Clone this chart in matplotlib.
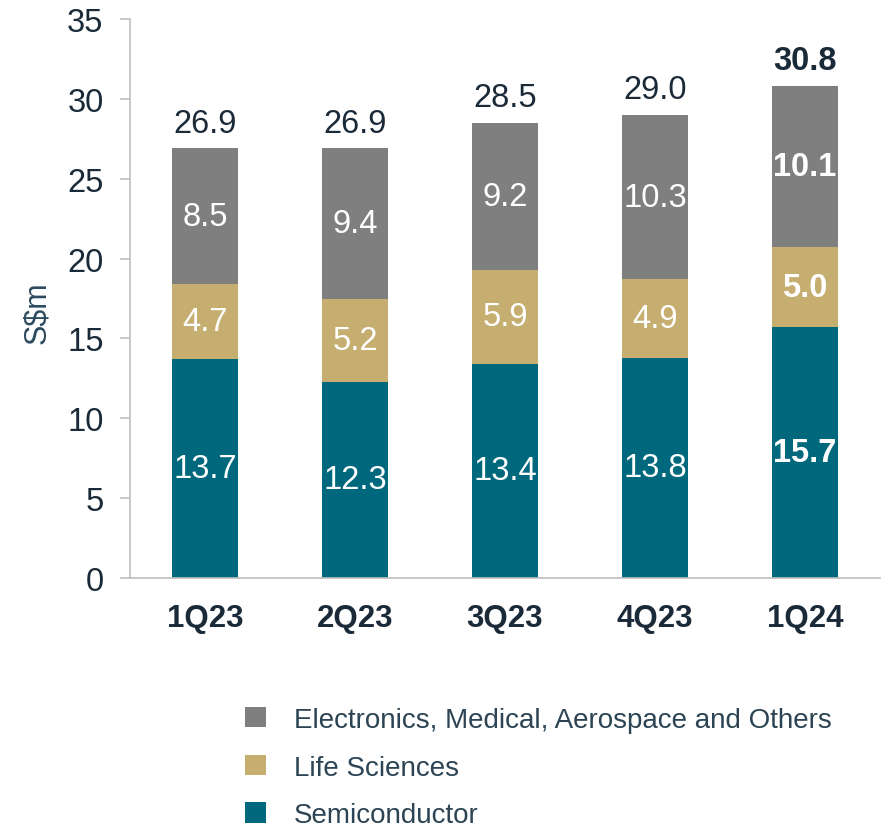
import matplotlib
matplotlib.use("Agg")
import matplotlib.pyplot as plt
import numpy as np

categories = ["1Q23", "2Q23", "3Q23", "4Q23", "1Q24"]
semiconductor = [13.7, 12.3, 13.4, 13.8, 15.7]
life_sciences = [4.7, 5.2, 5.9, 4.9, 5.0]
electronics = [8.5, 9.4, 9.2, 10.3, 10.1]
totals = [26.9, 26.9, 28.5, 29.0, 30.8]
series_names = ["Semiconductor", "Life Sciences", "Electronics, Medical, Aerospace and Others"]
colors = ["#00687d", "#c5ae6f", "#7f7f7f"]

plt.rcParams['font.family'] = ['Liberation Sans', 'DejaVu Sans']
txt = "#1b2a38"

fig = plt.figure(figsize=(8.85, 8.28), dpi=100)
ax = fig.add_axes([130/885, 1-579/828, 750/885, 559/828])

x = np.arange(len(categories))
w = 0.44
bottom = np.zeros(len(categories))
handles = []
for vals, name, c in zip([semiconductor, life_sciences, electronics], series_names, colors):
    bars = ax.bar(x, vals, w, bottom=bottom, color=c, label=name, zorder=2)
    handles.append(bars)
    for i, v in enumerate(vals):
        bold = (i == len(categories) - 1)
        ax.text(x[i], bottom[i] + v/2, f"{v:.1f}", ha="center", va="center",
                color="white", fontsize=23.5, fontweight="bold" if bold else "normal")
    bottom += np.array(vals)

for i, t in enumerate(totals):
    bold = (i == len(categories) - 1)
    ax.annotate(f"{t:.1f}", (x[i], t), xytext=(0, 7), textcoords="offset points",
                ha="center", va="bottom", fontsize=23.5, color=txt,
                fontweight="bold" if bold else "normal")

ax.set_xlim(-0.5, 4.5)
ax.set_ylim(0, 35)
ax.set_yticks(range(0, 36, 5))
ax.tick_params(axis="y", labelsize=23.5, labelcolor=txt, color="#bfbfbf", length=7, width=1.2, pad=12)
ax.tick_params(axis="x", length=0, pad=18)
ax.set_xticks(x)
ax.set_xticklabels(categories, fontsize=22.5, fontweight="bold", color=txt)
for s in ["top", "right"]:
    ax.spines[s].set_visible(False)
for s in ["left", "bottom"]:
    ax.spines[s].set_color("#bfbfbf")
    ax.spines[s].set_linewidth(1.2)
ax.set_ylabel("S$m", fontsize=22, color="#2c4a5e")
ax.yaxis.set_label_coords(-0.104, 0.476)

leg = fig.legend(handles[::-1], series_names[::-1], loc="upper left",
                 bbox_to_anchor=(220/885, 1-683/828), frameon=False, fontsize=20,
                 handlelength=0.75, handleheight=0.75, handletextpad=1.0, labelspacing=0.78,
                 labelcolor="#2c4454")

fig.savefig("out.png", dpi=100)
